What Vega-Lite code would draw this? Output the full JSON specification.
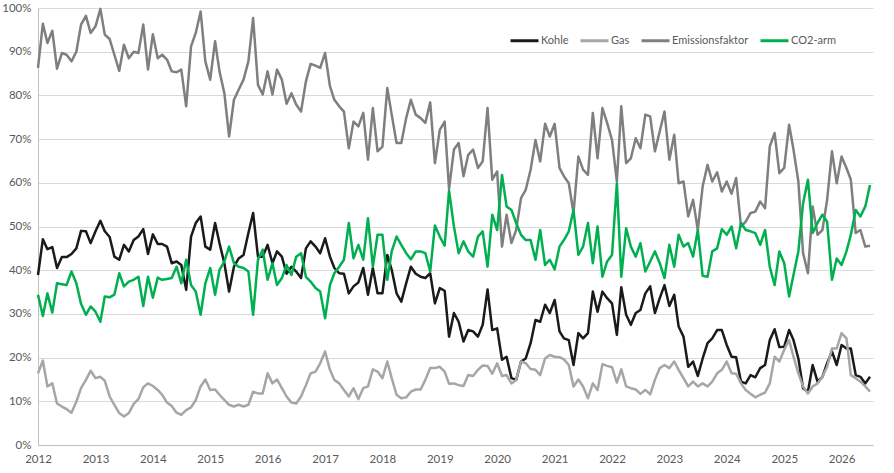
{
  "$schema": "https://vega.github.io/schema/vega-lite/v6.json",
  "width": 835,
  "height": 437,
  "autosize": "none",
  "padding": {"left": 38, "top": 8, "right": 21, "bottom": 28},
  "config": {"view": {"stroke": null}, "font": "Lato"},
  "data": {
    "format": {"parse": {"date": "date:'%Y-%m'"}},
    "values": [
      {"date":"2012-01","series":"Kohle","value":38.9},{"date":"2012-02","series":"Kohle","value":47.1},{"date":"2012-03","series":"Kohle","value":44.8},{"date":"2012-04","series":"Kohle","value":45.3},{"date":"2012-05","series":"Kohle","value":40.5},{"date":"2012-06","series":"Kohle","value":43},{"date":"2012-07","series":"Kohle","value":43},{"date":"2012-08","series":"Kohle","value":43.7},{"date":"2012-09","series":"Kohle","value":45},{"date":"2012-10","series":"Kohle","value":49},{"date":"2012-11","series":"Kohle","value":48.9},{"date":"2012-12","series":"Kohle","value":46.2},
      {"date":"2013-01","series":"Kohle","value":48.9},{"date":"2013-02","series":"Kohle","value":51.3},{"date":"2013-03","series":"Kohle","value":48.9},{"date":"2013-04","series":"Kohle","value":47.6},{"date":"2013-05","series":"Kohle","value":43.1},{"date":"2013-06","series":"Kohle","value":42.4},{"date":"2013-07","series":"Kohle","value":45.8},{"date":"2013-08","series":"Kohle","value":44.3},{"date":"2013-09","series":"Kohle","value":46.9},{"date":"2013-10","series":"Kohle","value":47.7},{"date":"2013-11","series":"Kohle","value":49.4},{"date":"2013-12","series":"Kohle","value":43.7},
      {"date":"2014-01","series":"Kohle","value":48.2},{"date":"2014-02","series":"Kohle","value":46},{"date":"2014-03","series":"Kohle","value":46},{"date":"2014-04","series":"Kohle","value":45.4},{"date":"2014-05","series":"Kohle","value":41.6},{"date":"2014-06","series":"Kohle","value":42},{"date":"2014-07","series":"Kohle","value":41.2},{"date":"2014-08","series":"Kohle","value":35.5},{"date":"2014-09","series":"Kohle","value":47.7},{"date":"2014-10","series":"Kohle","value":50.8},{"date":"2014-11","series":"Kohle","value":52.3},{"date":"2014-12","series":"Kohle","value":45.4},
      {"date":"2015-01","series":"Kohle","value":44.7},{"date":"2015-02","series":"Kohle","value":50.8},{"date":"2015-03","series":"Kohle","value":46.2},{"date":"2015-04","series":"Kohle","value":41.6},{"date":"2015-05","series":"Kohle","value":35.1},{"date":"2015-06","series":"Kohle","value":40.8},{"date":"2015-07","series":"Kohle","value":42.7},{"date":"2015-08","series":"Kohle","value":43.5},{"date":"2015-09","series":"Kohle","value":48.5},{"date":"2015-10","series":"Kohle","value":53.1},{"date":"2015-11","series":"Kohle","value":43.1},{"date":"2015-12","series":"Kohle","value":43.1},
      {"date":"2016-01","series":"Kohle","value":45.8},{"date":"2016-02","series":"Kohle","value":41.6},{"date":"2016-03","series":"Kohle","value":44.3},{"date":"2016-04","series":"Kohle","value":43.1},{"date":"2016-05","series":"Kohle","value":39.2},{"date":"2016-06","series":"Kohle","value":40.8},{"date":"2016-07","series":"Kohle","value":39.7},{"date":"2016-08","series":"Kohle","value":38.2},{"date":"2016-09","series":"Kohle","value":45},{"date":"2016-10","series":"Kohle","value":46.6},{"date":"2016-11","series":"Kohle","value":45.4},{"date":"2016-12","series":"Kohle","value":43.9},
      {"date":"2017-01","series":"Kohle","value":47.3},{"date":"2017-02","series":"Kohle","value":43.1},{"date":"2017-03","series":"Kohle","value":40.5},{"date":"2017-04","series":"Kohle","value":39.3},{"date":"2017-05","series":"Kohle","value":39.2},{"date":"2017-06","series":"Kohle","value":34.7},{"date":"2017-07","series":"Kohle","value":36.3},{"date":"2017-08","series":"Kohle","value":37.2},{"date":"2017-09","series":"Kohle","value":40.5},{"date":"2017-10","series":"Kohle","value":34.4},{"date":"2017-11","series":"Kohle","value":40.5},{"date":"2017-12","series":"Kohle","value":34.7},
      {"date":"2018-01","series":"Kohle","value":34.7},{"date":"2018-02","series":"Kohle","value":43.5},{"date":"2018-03","series":"Kohle","value":40.1},{"date":"2018-04","series":"Kohle","value":34.7},{"date":"2018-05","series":"Kohle","value":32.8},{"date":"2018-06","series":"Kohle","value":37},{"date":"2018-07","series":"Kohle","value":40.8},{"date":"2018-08","series":"Kohle","value":39.2},{"date":"2018-09","series":"Kohle","value":38.5},{"date":"2018-10","series":"Kohle","value":38.2},{"date":"2018-11","series":"Kohle","value":39.3},{"date":"2018-12","series":"Kohle","value":32.4},
      {"date":"2019-01","series":"Kohle","value":35.9},{"date":"2019-02","series":"Kohle","value":35.3},{"date":"2019-03","series":"Kohle","value":24.8},{"date":"2019-04","series":"Kohle","value":30.2},{"date":"2019-05","series":"Kohle","value":28.2},{"date":"2019-06","series":"Kohle","value":23.7},{"date":"2019-07","series":"Kohle","value":26.3},{"date":"2019-08","series":"Kohle","value":26},{"date":"2019-09","series":"Kohle","value":24.8},{"date":"2019-10","series":"Kohle","value":27.5},{"date":"2019-11","series":"Kohle","value":35.6},{"date":"2019-12","series":"Kohle","value":26.3},
      {"date":"2020-01","series":"Kohle","value":26.7},{"date":"2020-02","series":"Kohle","value":19.5},{"date":"2020-03","series":"Kohle","value":20.2},{"date":"2020-04","series":"Kohle","value":15.3},{"date":"2020-05","series":"Kohle","value":14.9},{"date":"2020-06","series":"Kohle","value":19.1},{"date":"2020-07","series":"Kohle","value":19.8},{"date":"2020-08","series":"Kohle","value":23.3},{"date":"2020-09","series":"Kohle","value":28.6},{"date":"2020-10","series":"Kohle","value":28.2},{"date":"2020-11","series":"Kohle","value":32.1},{"date":"2020-12","series":"Kohle","value":30.2},
      {"date":"2021-01","series":"Kohle","value":33.2},{"date":"2021-02","series":"Kohle","value":26},{"date":"2021-03","series":"Kohle","value":24.4},{"date":"2021-04","series":"Kohle","value":24},{"date":"2021-05","series":"Kohle","value":18.3},{"date":"2021-06","series":"Kohle","value":25.6},{"date":"2021-07","series":"Kohle","value":24.4},{"date":"2021-08","series":"Kohle","value":25.6},{"date":"2021-09","series":"Kohle","value":35.1},{"date":"2021-10","series":"Kohle","value":30.5},{"date":"2021-11","series":"Kohle","value":35.1},{"date":"2021-12","series":"Kohle","value":33.6},
      {"date":"2022-01","series":"Kohle","value":32.4},{"date":"2022-02","series":"Kohle","value":25.2},{"date":"2022-03","series":"Kohle","value":36.1},{"date":"2022-04","series":"Kohle","value":29.8},{"date":"2022-05","series":"Kohle","value":27.5},{"date":"2022-06","series":"Kohle","value":30.2},{"date":"2022-07","series":"Kohle","value":30.9},{"date":"2022-08","series":"Kohle","value":34.7},{"date":"2022-09","series":"Kohle","value":36.3},{"date":"2022-10","series":"Kohle","value":30.2},{"date":"2022-11","series":"Kohle","value":33.6},{"date":"2022-12","series":"Kohle","value":36.6},
      {"date":"2023-01","series":"Kohle","value":31.8},{"date":"2023-02","series":"Kohle","value":34.4},{"date":"2023-03","series":"Kohle","value":27.1},{"date":"2023-04","series":"Kohle","value":24.8},{"date":"2023-05","series":"Kohle","value":17.9},{"date":"2023-06","series":"Kohle","value":19.1},{"date":"2023-07","series":"Kohle","value":15.8},{"date":"2023-08","series":"Kohle","value":19.8},{"date":"2023-09","series":"Kohle","value":23.3},{"date":"2023-10","series":"Kohle","value":24.4},{"date":"2023-11","series":"Kohle","value":26.3},{"date":"2023-12","series":"Kohle","value":26.3},
      {"date":"2024-01","series":"Kohle","value":22.9},{"date":"2024-02","series":"Kohle","value":20.2},{"date":"2024-03","series":"Kohle","value":20.1},{"date":"2024-04","series":"Kohle","value":14.5},{"date":"2024-05","series":"Kohle","value":14.1},{"date":"2024-06","series":"Kohle","value":16},{"date":"2024-07","series":"Kohle","value":15.5},{"date":"2024-08","series":"Kohle","value":17.6},{"date":"2024-09","series":"Kohle","value":18.3},{"date":"2024-10","series":"Kohle","value":24},{"date":"2024-11","series":"Kohle","value":26.5},{"date":"2024-12","series":"Kohle","value":22.4},
      {"date":"2025-01","series":"Kohle","value":22.5},{"date":"2025-02","series":"Kohle","value":26.3},{"date":"2025-03","series":"Kohle","value":24},{"date":"2025-04","series":"Kohle","value":19.8},{"date":"2025-05","series":"Kohle","value":13},{"date":"2025-06","series":"Kohle","value":12.2},{"date":"2025-07","series":"Kohle","value":18.3},{"date":"2025-08","series":"Kohle","value":14.5},{"date":"2025-09","series":"Kohle","value":15.6},{"date":"2025-10","series":"Kohle","value":18.7},{"date":"2025-11","series":"Kohle","value":21.4},{"date":"2025-12","series":"Kohle","value":18.3},
      {"date":"2026-01","series":"Kohle","value":22.9},{"date":"2026-02","series":"Kohle","value":22.1},{"date":"2026-03","series":"Kohle","value":22.1},{"date":"2026-04","series":"Kohle","value":16},{"date":"2026-05","series":"Kohle","value":15.6},{"date":"2026-06","series":"Kohle","value":14.1},{"date":"2026-07","series":"Kohle","value":15.6},

      {"date":"2012-01","series":"Gas","value":16.4},{"date":"2012-02","series":"Gas","value":19.3},{"date":"2012-03","series":"Gas","value":13.4},{"date":"2012-04","series":"Gas","value":14.1},{"date":"2012-05","series":"Gas","value":9.5},{"date":"2012-06","series":"Gas","value":8.8},{"date":"2012-07","series":"Gas","value":8.2},{"date":"2012-08","series":"Gas","value":7.4},{"date":"2012-09","series":"Gas","value":9.9},{"date":"2012-10","series":"Gas","value":13},{"date":"2012-11","series":"Gas","value":14.9},{"date":"2012-12","series":"Gas","value":17},
      {"date":"2013-01","series":"Gas","value":15.3},{"date":"2013-02","series":"Gas","value":15.6},{"date":"2013-03","series":"Gas","value":14.7},{"date":"2013-04","series":"Gas","value":11.1},{"date":"2013-05","series":"Gas","value":9.2},{"date":"2013-06","series":"Gas","value":7.3},{"date":"2013-07","series":"Gas","value":6.5},{"date":"2013-08","series":"Gas","value":7.3},{"date":"2013-09","series":"Gas","value":9.4},{"date":"2013-10","series":"Gas","value":10.5},{"date":"2013-11","series":"Gas","value":13.2},{"date":"2013-12","series":"Gas","value":14.1},
      {"date":"2014-01","series":"Gas","value":13.5},{"date":"2014-02","series":"Gas","value":12.6},{"date":"2014-03","series":"Gas","value":11.5},{"date":"2014-04","series":"Gas","value":9.7},{"date":"2014-05","series":"Gas","value":8.9},{"date":"2014-06","series":"Gas","value":7.4},{"date":"2014-07","series":"Gas","value":6.9},{"date":"2014-08","series":"Gas","value":8},{"date":"2014-09","series":"Gas","value":8.6},{"date":"2014-10","series":"Gas","value":10.3},{"date":"2014-11","series":"Gas","value":13.4},{"date":"2014-12","series":"Gas","value":15},
      {"date":"2015-01","series":"Gas","value":12.6},{"date":"2015-02","series":"Gas","value":12.7},{"date":"2015-03","series":"Gas","value":11.5},{"date":"2015-04","series":"Gas","value":10.3},{"date":"2015-05","series":"Gas","value":9.2},{"date":"2015-06","series":"Gas","value":8.8},{"date":"2015-07","series":"Gas","value":9.2},{"date":"2015-08","series":"Gas","value":8.8},{"date":"2015-09","series":"Gas","value":9.2},{"date":"2015-10","series":"Gas","value":12.2},{"date":"2015-11","series":"Gas","value":11.8},{"date":"2015-12","series":"Gas","value":11.8},
      {"date":"2016-01","series":"Gas","value":16.4},{"date":"2016-02","series":"Gas","value":14.1},{"date":"2016-03","series":"Gas","value":15},{"date":"2016-04","series":"Gas","value":13},{"date":"2016-05","series":"Gas","value":11.1},{"date":"2016-06","series":"Gas","value":9.7},{"date":"2016-07","series":"Gas","value":9.5},{"date":"2016-08","series":"Gas","value":11.1},{"date":"2016-09","series":"Gas","value":13.7},{"date":"2016-10","series":"Gas","value":16.4},{"date":"2016-11","series":"Gas","value":16.8},{"date":"2016-12","series":"Gas","value":18.7},
      {"date":"2017-01","series":"Gas","value":21.4},{"date":"2017-02","series":"Gas","value":17.2},{"date":"2017-03","series":"Gas","value":14.9},{"date":"2017-04","series":"Gas","value":14.1},{"date":"2017-05","series":"Gas","value":12.6},{"date":"2017-06","series":"Gas","value":11.1},{"date":"2017-07","series":"Gas","value":13},{"date":"2017-08","series":"Gas","value":10.5},{"date":"2017-09","series":"Gas","value":13},{"date":"2017-10","series":"Gas","value":13.4},{"date":"2017-11","series":"Gas","value":17.3},{"date":"2017-12","series":"Gas","value":16.8},
      {"date":"2018-01","series":"Gas","value":15.3},{"date":"2018-02","series":"Gas","value":19.1},{"date":"2018-03","series":"Gas","value":15.3},{"date":"2018-04","series":"Gas","value":11.5},{"date":"2018-05","series":"Gas","value":10.7},{"date":"2018-06","series":"Gas","value":10.9},{"date":"2018-07","series":"Gas","value":12.2},{"date":"2018-08","series":"Gas","value":12.7},{"date":"2018-09","series":"Gas","value":12.7},{"date":"2018-10","series":"Gas","value":14.9},{"date":"2018-11","series":"Gas","value":17.6},{"date":"2018-12","series":"Gas","value":17.6},
      {"date":"2019-01","series":"Gas","value":17.9},{"date":"2019-02","series":"Gas","value":16.8},{"date":"2019-03","series":"Gas","value":14},{"date":"2019-04","series":"Gas","value":14.1},{"date":"2019-05","series":"Gas","value":13.7},{"date":"2019-06","series":"Gas","value":13.5},{"date":"2019-07","series":"Gas","value":16},{"date":"2019-08","series":"Gas","value":15.8},{"date":"2019-09","series":"Gas","value":17.2},{"date":"2019-10","series":"Gas","value":18.2},{"date":"2019-11","series":"Gas","value":18.1},{"date":"2019-12","series":"Gas","value":16.3},
      {"date":"2020-01","series":"Gas","value":18.7},{"date":"2020-02","series":"Gas","value":15.8},{"date":"2020-03","series":"Gas","value":16},{"date":"2020-04","series":"Gas","value":14.1},{"date":"2020-05","series":"Gas","value":14.9},{"date":"2020-06","series":"Gas","value":19.1},{"date":"2020-07","series":"Gas","value":18.7},{"date":"2020-08","series":"Gas","value":17.4},{"date":"2020-09","series":"Gas","value":17.2},{"date":"2020-10","series":"Gas","value":16},{"date":"2020-11","series":"Gas","value":19.8},{"date":"2020-12","series":"Gas","value":20.6},
      {"date":"2021-01","series":"Gas","value":20.2},{"date":"2021-02","series":"Gas","value":20.1},{"date":"2021-03","series":"Gas","value":19.6},{"date":"2021-04","series":"Gas","value":18.3},{"date":"2021-05","series":"Gas","value":13.4},{"date":"2021-06","series":"Gas","value":15},{"date":"2021-07","series":"Gas","value":13.4},{"date":"2021-08","series":"Gas","value":10.7},{"date":"2021-09","series":"Gas","value":14.1},{"date":"2021-10","series":"Gas","value":12.6},{"date":"2021-11","series":"Gas","value":18.5},{"date":"2021-12","series":"Gas","value":18.1},
      {"date":"2022-01","series":"Gas","value":17.8},{"date":"2022-02","series":"Gas","value":14.3},{"date":"2022-03","series":"Gas","value":17.3},{"date":"2022-04","series":"Gas","value":13.4},{"date":"2022-05","series":"Gas","value":13},{"date":"2022-06","series":"Gas","value":12.7},{"date":"2022-07","series":"Gas","value":11.7},{"date":"2022-08","series":"Gas","value":12.6},{"date":"2022-09","series":"Gas","value":11.6},{"date":"2022-10","series":"Gas","value":14.9},{"date":"2022-11","series":"Gas","value":17.6},{"date":"2022-12","series":"Gas","value":18.3},
      {"date":"2023-01","series":"Gas","value":17.6},{"date":"2023-02","series":"Gas","value":19.1},{"date":"2023-03","series":"Gas","value":17.2},{"date":"2023-04","series":"Gas","value":15.3},{"date":"2023-05","series":"Gas","value":13.4},{"date":"2023-06","series":"Gas","value":14.5},{"date":"2023-07","series":"Gas","value":13.4},{"date":"2023-08","series":"Gas","value":14.1},{"date":"2023-09","series":"Gas","value":13.4},{"date":"2023-10","series":"Gas","value":14.5},{"date":"2023-11","series":"Gas","value":16.4},{"date":"2023-12","series":"Gas","value":17.2},
      {"date":"2024-01","series":"Gas","value":19.1},{"date":"2024-02","series":"Gas","value":16.4},{"date":"2024-03","series":"Gas","value":16.3},{"date":"2024-04","series":"Gas","value":14.1},{"date":"2024-05","series":"Gas","value":12.6},{"date":"2024-06","series":"Gas","value":11.7},{"date":"2024-07","series":"Gas","value":10.9},{"date":"2024-08","series":"Gas","value":11.5},{"date":"2024-09","series":"Gas","value":12},{"date":"2024-10","series":"Gas","value":14.1},{"date":"2024-11","series":"Gas","value":20.2},{"date":"2024-12","series":"Gas","value":19.1},
      {"date":"2025-01","series":"Gas","value":21.8},{"date":"2025-02","series":"Gas","value":24},{"date":"2025-03","series":"Gas","value":20.2},{"date":"2025-04","series":"Gas","value":16.4},{"date":"2025-05","series":"Gas","value":13.4},{"date":"2025-06","series":"Gas","value":11.8},{"date":"2025-07","series":"Gas","value":13.4},{"date":"2025-08","series":"Gas","value":14.1},{"date":"2025-09","series":"Gas","value":15.6},{"date":"2025-10","series":"Gas","value":17.9},{"date":"2025-11","series":"Gas","value":22.1},{"date":"2025-12","series":"Gas","value":22.1},
      {"date":"2026-01","series":"Gas","value":25.6},{"date":"2026-02","series":"Gas","value":24.4},{"date":"2026-03","series":"Gas","value":16},{"date":"2026-04","series":"Gas","value":15.3},{"date":"2026-05","series":"Gas","value":14.5},{"date":"2026-06","series":"Gas","value":13.4},{"date":"2026-07","series":"Gas","value":12.2},

      {"date":"2012-01","series":"Emissionsfaktor","value":86.3},{"date":"2012-02","series":"Emissionsfaktor","value":96.4},{"date":"2012-03","series":"Emissionsfaktor","value":92},{"date":"2012-04","series":"Emissionsfaktor","value":94.8},{"date":"2012-05","series":"Emissionsfaktor","value":86.1},{"date":"2012-06","series":"Emissionsfaktor","value":89.7},{"date":"2012-07","series":"Emissionsfaktor","value":89.3},{"date":"2012-08","series":"Emissionsfaktor","value":87.8},{"date":"2012-09","series":"Emissionsfaktor","value":90},{"date":"2012-10","series":"Emissionsfaktor","value":96.2},{"date":"2012-11","series":"Emissionsfaktor","value":98.2},{"date":"2012-12","series":"Emissionsfaktor","value":94.3},
      {"date":"2013-01","series":"Emissionsfaktor","value":95.8},{"date":"2013-02","series":"Emissionsfaktor","value":99.8},{"date":"2013-03","series":"Emissionsfaktor","value":93.9},{"date":"2013-04","series":"Emissionsfaktor","value":92.9},{"date":"2013-05","series":"Emissionsfaktor","value":89.3},{"date":"2013-06","series":"Emissionsfaktor","value":85.6},{"date":"2013-07","series":"Emissionsfaktor","value":91.6},{"date":"2013-08","series":"Emissionsfaktor","value":88.5},{"date":"2013-09","series":"Emissionsfaktor","value":90},{"date":"2013-10","series":"Emissionsfaktor","value":89.7},{"date":"2013-11","series":"Emissionsfaktor","value":96.2},{"date":"2013-12","series":"Emissionsfaktor","value":85.9},
      {"date":"2014-01","series":"Emissionsfaktor","value":94},{"date":"2014-02","series":"Emissionsfaktor","value":88.5},{"date":"2014-03","series":"Emissionsfaktor","value":89.3},{"date":"2014-04","series":"Emissionsfaktor","value":88.2},{"date":"2014-05","series":"Emissionsfaktor","value":85.5},{"date":"2014-06","series":"Emissionsfaktor","value":85.3},{"date":"2014-07","series":"Emissionsfaktor","value":85.9},{"date":"2014-08","series":"Emissionsfaktor","value":77.5},{"date":"2014-09","series":"Emissionsfaktor","value":91.2},{"date":"2014-10","series":"Emissionsfaktor","value":94.3},{"date":"2014-11","series":"Emissionsfaktor","value":99.2},{"date":"2014-12","series":"Emissionsfaktor","value":87.8},
      {"date":"2015-01","series":"Emissionsfaktor","value":83.6},{"date":"2015-02","series":"Emissionsfaktor","value":92.4},{"date":"2015-03","series":"Emissionsfaktor","value":85.5},{"date":"2015-04","series":"Emissionsfaktor","value":80.5},{"date":"2015-05","series":"Emissionsfaktor","value":70.6},{"date":"2015-06","series":"Emissionsfaktor","value":79},{"date":"2015-07","series":"Emissionsfaktor","value":81.3},{"date":"2015-08","series":"Emissionsfaktor","value":83.6},{"date":"2015-09","series":"Emissionsfaktor","value":87.8},{"date":"2015-10","series":"Emissionsfaktor","value":97.7},{"date":"2015-11","series":"Emissionsfaktor","value":82.4},{"date":"2015-12","series":"Emissionsfaktor","value":80.2},
      {"date":"2016-01","series":"Emissionsfaktor","value":85.5},{"date":"2016-02","series":"Emissionsfaktor","value":80.2},{"date":"2016-03","series":"Emissionsfaktor","value":85.9},{"date":"2016-04","series":"Emissionsfaktor","value":83.6},{"date":"2016-05","series":"Emissionsfaktor","value":78.1},{"date":"2016-06","series":"Emissionsfaktor","value":80.5},{"date":"2016-07","series":"Emissionsfaktor","value":77.9},{"date":"2016-08","series":"Emissionsfaktor","value":76.3},{"date":"2016-09","series":"Emissionsfaktor","value":83.2},{"date":"2016-10","series":"Emissionsfaktor","value":87.2},{"date":"2016-11","series":"Emissionsfaktor","value":86.8},{"date":"2016-12","series":"Emissionsfaktor","value":86.3},
      {"date":"2017-01","series":"Emissionsfaktor","value":89.7},{"date":"2017-02","series":"Emissionsfaktor","value":82.1},{"date":"2017-03","series":"Emissionsfaktor","value":79},{"date":"2017-04","series":"Emissionsfaktor","value":77.5},{"date":"2017-05","series":"Emissionsfaktor","value":76.3},{"date":"2017-06","series":"Emissionsfaktor","value":67.9},{"date":"2017-07","series":"Emissionsfaktor","value":74},{"date":"2017-08","series":"Emissionsfaktor","value":72.9},{"date":"2017-09","series":"Emissionsfaktor","value":76},{"date":"2017-10","series":"Emissionsfaktor","value":65.3},{"date":"2017-11","series":"Emissionsfaktor","value":77.1},{"date":"2017-12","series":"Emissionsfaktor","value":67.2},
      {"date":"2018-01","series":"Emissionsfaktor","value":68.3},{"date":"2018-02","series":"Emissionsfaktor","value":81.7},{"date":"2018-03","series":"Emissionsfaktor","value":75.6},{"date":"2018-04","series":"Emissionsfaktor","value":69.1},{"date":"2018-05","series":"Emissionsfaktor","value":69.1},{"date":"2018-06","series":"Emissionsfaktor","value":74.8},{"date":"2018-07","series":"Emissionsfaktor","value":79},{"date":"2018-08","series":"Emissionsfaktor","value":75.6},{"date":"2018-09","series":"Emissionsfaktor","value":74.8},{"date":"2018-10","series":"Emissionsfaktor","value":73.7},{"date":"2018-11","series":"Emissionsfaktor","value":78.4},{"date":"2018-12","series":"Emissionsfaktor","value":64.5},
      {"date":"2019-01","series":"Emissionsfaktor","value":72.1},{"date":"2019-02","series":"Emissionsfaktor","value":74},{"date":"2019-03","series":"Emissionsfaktor","value":58.6},{"date":"2019-04","series":"Emissionsfaktor","value":67.6},{"date":"2019-05","series":"Emissionsfaktor","value":69.1},{"date":"2019-06","series":"Emissionsfaktor","value":61.5},{"date":"2019-07","series":"Emissionsfaktor","value":66.4},{"date":"2019-08","series":"Emissionsfaktor","value":67.6},{"date":"2019-09","series":"Emissionsfaktor","value":63.4},{"date":"2019-10","series":"Emissionsfaktor","value":64.9},{"date":"2019-11","series":"Emissionsfaktor","value":77.1},{"date":"2019-12","series":"Emissionsfaktor","value":60.7},
      {"date":"2020-01","series":"Emissionsfaktor","value":62.6},{"date":"2020-02","series":"Emissionsfaktor","value":45.4},{"date":"2020-03","series":"Emissionsfaktor","value":52.7},{"date":"2020-04","series":"Emissionsfaktor","value":46.2},{"date":"2020-05","series":"Emissionsfaktor","value":49.2},{"date":"2020-06","series":"Emissionsfaktor","value":56.5},{"date":"2020-07","series":"Emissionsfaktor","value":58.4},{"date":"2020-08","series":"Emissionsfaktor","value":63},{"date":"2020-09","series":"Emissionsfaktor","value":69.8},{"date":"2020-10","series":"Emissionsfaktor","value":64.9},{"date":"2020-11","series":"Emissionsfaktor","value":73.5},{"date":"2020-12","series":"Emissionsfaktor","value":70.6},
      {"date":"2021-01","series":"Emissionsfaktor","value":73.5},{"date":"2021-02","series":"Emissionsfaktor","value":63.4},{"date":"2021-03","series":"Emissionsfaktor","value":61.5},{"date":"2021-04","series":"Emissionsfaktor","value":59.9},{"date":"2021-05","series":"Emissionsfaktor","value":53.1},{"date":"2021-06","series":"Emissionsfaktor","value":66},{"date":"2021-07","series":"Emissionsfaktor","value":63},{"date":"2021-08","series":"Emissionsfaktor","value":61.8},{"date":"2021-09","series":"Emissionsfaktor","value":76},{"date":"2021-10","series":"Emissionsfaktor","value":65.6},{"date":"2021-11","series":"Emissionsfaktor","value":77.1},{"date":"2021-12","series":"Emissionsfaktor","value":73.7},
      {"date":"2022-01","series":"Emissionsfaktor","value":69.8},{"date":"2022-02","series":"Emissionsfaktor","value":60.3},{"date":"2022-03","series":"Emissionsfaktor","value":77.5},{"date":"2022-04","series":"Emissionsfaktor","value":64.5},{"date":"2022-05","series":"Emissionsfaktor","value":65.6},{"date":"2022-06","series":"Emissionsfaktor","value":70.2},{"date":"2022-07","series":"Emissionsfaktor","value":67.9},{"date":"2022-08","series":"Emissionsfaktor","value":75.6},{"date":"2022-09","series":"Emissionsfaktor","value":75.2},{"date":"2022-10","series":"Emissionsfaktor","value":67.2},{"date":"2022-11","series":"Emissionsfaktor","value":71.8},{"date":"2022-12","series":"Emissionsfaktor","value":76.3},
      {"date":"2023-01","series":"Emissionsfaktor","value":65.3},{"date":"2023-02","series":"Emissionsfaktor","value":71},{"date":"2023-03","series":"Emissionsfaktor","value":59.9},{"date":"2023-04","series":"Emissionsfaktor","value":60.3},{"date":"2023-05","series":"Emissionsfaktor","value":52.3},{"date":"2023-06","series":"Emissionsfaktor","value":56.1},{"date":"2023-07","series":"Emissionsfaktor","value":49.2},{"date":"2023-08","series":"Emissionsfaktor","value":59.2},{"date":"2023-09","series":"Emissionsfaktor","value":64.1},{"date":"2023-10","series":"Emissionsfaktor","value":60.3},{"date":"2023-11","series":"Emissionsfaktor","value":62.4},{"date":"2023-12","series":"Emissionsfaktor","value":58},
      {"date":"2024-01","series":"Emissionsfaktor","value":60.3},{"date":"2024-02","series":"Emissionsfaktor","value":57.5},{"date":"2024-03","series":"Emissionsfaktor","value":61.1},{"date":"2024-04","series":"Emissionsfaktor","value":50},{"date":"2024-05","series":"Emissionsfaktor","value":51.1},{"date":"2024-06","series":"Emissionsfaktor","value":53.1},{"date":"2024-07","series":"Emissionsfaktor","value":53.4},{"date":"2024-08","series":"Emissionsfaktor","value":55.7},{"date":"2024-09","series":"Emissionsfaktor","value":54.2},{"date":"2024-10","series":"Emissionsfaktor","value":68.3},{"date":"2024-11","series":"Emissionsfaktor","value":71.4},{"date":"2024-12","series":"Emissionsfaktor","value":62.2},
      {"date":"2025-01","series":"Emissionsfaktor","value":63.4},{"date":"2025-02","series":"Emissionsfaktor","value":73.3},{"date":"2025-03","series":"Emissionsfaktor","value":67.6},{"date":"2025-04","series":"Emissionsfaktor","value":60.3},{"date":"2025-05","series":"Emissionsfaktor","value":43.9},{"date":"2025-06","series":"Emissionsfaktor","value":39.3},{"date":"2025-07","series":"Emissionsfaktor","value":54.6},{"date":"2025-08","series":"Emissionsfaktor","value":48.1},{"date":"2025-09","series":"Emissionsfaktor","value":49.2},{"date":"2025-10","series":"Emissionsfaktor","value":56.1},{"date":"2025-11","series":"Emissionsfaktor","value":67.2},{"date":"2025-12","series":"Emissionsfaktor","value":59.9},
      {"date":"2026-01","series":"Emissionsfaktor","value":66},{"date":"2026-02","series":"Emissionsfaktor","value":63.4},{"date":"2026-03","series":"Emissionsfaktor","value":60.7},{"date":"2026-04","series":"Emissionsfaktor","value":48.5},{"date":"2026-05","series":"Emissionsfaktor","value":49.2},{"date":"2026-06","series":"Emissionsfaktor","value":45.4},{"date":"2026-07","series":"Emissionsfaktor","value":45.6},

      {"date":"2012-01","series":"CO2-arm","value":34.4},{"date":"2012-02","series":"CO2-arm","value":29.5},{"date":"2012-03","series":"CO2-arm","value":34.7},{"date":"2012-04","series":"CO2-arm","value":30.3},{"date":"2012-05","series":"CO2-arm","value":37},{"date":"2012-06","series":"CO2-arm","value":36.8},{"date":"2012-07","series":"CO2-arm","value":36.6},{"date":"2012-08","series":"CO2-arm","value":39.7},{"date":"2012-09","series":"CO2-arm","value":37},{"date":"2012-10","series":"CO2-arm","value":32.3},{"date":"2012-11","series":"CO2-arm","value":29.8},{"date":"2012-12","series":"CO2-arm","value":31.7},
      {"date":"2013-01","series":"CO2-arm","value":30.5},{"date":"2013-02","series":"CO2-arm","value":28.2},{"date":"2013-03","series":"CO2-arm","value":34},{"date":"2013-04","series":"CO2-arm","value":33.8},{"date":"2013-05","series":"CO2-arm","value":34.4},{"date":"2013-06","series":"CO2-arm","value":39.3},{"date":"2013-07","series":"CO2-arm","value":36.3},{"date":"2013-08","series":"CO2-arm","value":37.4},{"date":"2013-09","series":"CO2-arm","value":37.8},{"date":"2013-10","series":"CO2-arm","value":38.5},{"date":"2013-11","series":"CO2-arm","value":31.8},{"date":"2013-12","series":"CO2-arm","value":38.5},
      {"date":"2014-01","series":"CO2-arm","value":33.7},{"date":"2014-02","series":"CO2-arm","value":38.3},{"date":"2014-03","series":"CO2-arm","value":37.8},{"date":"2014-04","series":"CO2-arm","value":38},{"date":"2014-05","series":"CO2-arm","value":38.2},{"date":"2014-06","series":"CO2-arm","value":40.8},{"date":"2014-07","series":"CO2-arm","value":37},{"date":"2014-08","series":"CO2-arm","value":42.4},{"date":"2014-09","series":"CO2-arm","value":36.6},{"date":"2014-10","series":"CO2-arm","value":35.1},{"date":"2014-11","series":"CO2-arm","value":29.8},{"date":"2014-12","series":"CO2-arm","value":37},
      {"date":"2015-01","series":"CO2-arm","value":40.5},{"date":"2015-02","series":"CO2-arm","value":34.4},{"date":"2015-03","series":"CO2-arm","value":40.1},{"date":"2015-04","series":"CO2-arm","value":42},{"date":"2015-05","series":"CO2-arm","value":45.4},{"date":"2015-06","series":"CO2-arm","value":41.6},{"date":"2015-07","series":"CO2-arm","value":40.8},{"date":"2015-08","series":"CO2-arm","value":40.5},{"date":"2015-09","series":"CO2-arm","value":39.7},{"date":"2015-10","series":"CO2-arm","value":29.8},{"date":"2015-11","series":"CO2-arm","value":42.4},{"date":"2015-12","series":"CO2-arm","value":44.7},
      {"date":"2016-01","series":"CO2-arm","value":37.8},{"date":"2016-02","series":"CO2-arm","value":41.6},{"date":"2016-03","series":"CO2-arm","value":36.6},{"date":"2016-04","series":"CO2-arm","value":38.2},{"date":"2016-05","series":"CO2-arm","value":41.2},{"date":"2016-06","series":"CO2-arm","value":38.9},{"date":"2016-07","series":"CO2-arm","value":43.1},{"date":"2016-08","series":"CO2-arm","value":43.9},{"date":"2016-09","series":"CO2-arm","value":38.5},{"date":"2016-10","series":"CO2-arm","value":37.4},{"date":"2016-11","series":"CO2-arm","value":35.9},{"date":"2016-12","series":"CO2-arm","value":35.1},
      {"date":"2017-01","series":"CO2-arm","value":29},{"date":"2017-02","series":"CO2-arm","value":36.6},{"date":"2017-03","series":"CO2-arm","value":39.3},{"date":"2017-04","series":"CO2-arm","value":40.8},{"date":"2017-05","series":"CO2-arm","value":42.4},{"date":"2017-06","series":"CO2-arm","value":50.8},{"date":"2017-07","series":"CO2-arm","value":42.7},{"date":"2017-08","series":"CO2-arm","value":45.8},{"date":"2017-09","series":"CO2-arm","value":42.4},{"date":"2017-10","series":"CO2-arm","value":51.9},{"date":"2017-11","series":"CO2-arm","value":40.8},{"date":"2017-12","series":"CO2-arm","value":48.1},
      {"date":"2018-01","series":"CO2-arm","value":48.1},{"date":"2018-02","series":"CO2-arm","value":37.8},{"date":"2018-03","series":"CO2-arm","value":44.3},{"date":"2018-04","series":"CO2-arm","value":47.7},{"date":"2018-05","series":"CO2-arm","value":45.8},{"date":"2018-06","series":"CO2-arm","value":43.9},{"date":"2018-07","series":"CO2-arm","value":42.5},{"date":"2018-08","series":"CO2-arm","value":44.3},{"date":"2018-09","series":"CO2-arm","value":44.3},{"date":"2018-10","series":"CO2-arm","value":43.9},{"date":"2018-11","series":"CO2-arm","value":39.7},{"date":"2018-12","series":"CO2-arm","value":50.2},
      {"date":"2019-01","series":"CO2-arm","value":47.7},{"date":"2019-02","series":"CO2-arm","value":45.6},{"date":"2019-03","series":"CO2-arm","value":58.2},{"date":"2019-04","series":"CO2-arm","value":50},{"date":"2019-05","series":"CO2-arm","value":43.9},{"date":"2019-06","series":"CO2-arm","value":46.6},{"date":"2019-07","series":"CO2-arm","value":44.3},{"date":"2019-08","series":"CO2-arm","value":43.1},{"date":"2019-09","series":"CO2-arm","value":47.7},{"date":"2019-10","series":"CO2-arm","value":48.9},{"date":"2019-11","series":"CO2-arm","value":40.8},{"date":"2019-12","series":"CO2-arm","value":52.7},
      {"date":"2020-01","series":"CO2-arm","value":49.2},{"date":"2020-02","series":"CO2-arm","value":61.8},{"date":"2020-03","series":"CO2-arm","value":54.6},{"date":"2020-04","series":"CO2-arm","value":53.8},{"date":"2020-05","series":"CO2-arm","value":50.8},{"date":"2020-06","series":"CO2-arm","value":48.1},{"date":"2020-07","series":"CO2-arm","value":46.9},{"date":"2020-08","series":"CO2-arm","value":46.9},{"date":"2020-09","series":"CO2-arm","value":42.4},{"date":"2020-10","series":"CO2-arm","value":49.2},{"date":"2020-11","series":"CO2-arm","value":41.2},{"date":"2020-12","series":"CO2-arm","value":42.4},
      {"date":"2021-01","series":"CO2-arm","value":40.2},{"date":"2021-02","series":"CO2-arm","value":45.4},{"date":"2021-03","series":"CO2-arm","value":46.9},{"date":"2021-04","series":"CO2-arm","value":48.9},{"date":"2021-05","series":"CO2-arm","value":53.8},{"date":"2021-06","series":"CO2-arm","value":43.5},{"date":"2021-07","series":"CO2-arm","value":45.4},{"date":"2021-08","series":"CO2-arm","value":50.8},{"date":"2021-09","series":"CO2-arm","value":41.6},{"date":"2021-10","series":"CO2-arm","value":50},{"date":"2021-11","series":"CO2-arm","value":38.5},{"date":"2021-12","series":"CO2-arm","value":42},
      {"date":"2022-01","series":"CO2-arm","value":43.5},{"date":"2022-02","series":"CO2-arm","value":59.9},{"date":"2022-03","series":"CO2-arm","value":38.5},{"date":"2022-04","series":"CO2-arm","value":49.6},{"date":"2022-05","series":"CO2-arm","value":45.4},{"date":"2022-06","series":"CO2-arm","value":43.1},{"date":"2022-07","series":"CO2-arm","value":46.2},{"date":"2022-08","series":"CO2-arm","value":39.7},{"date":"2022-09","series":"CO2-arm","value":42},{"date":"2022-10","series":"CO2-arm","value":44.3},{"date":"2022-11","series":"CO2-arm","value":41.6},{"date":"2022-12","series":"CO2-arm","value":38.2},
      {"date":"2023-01","series":"CO2-arm","value":45.8},{"date":"2023-02","series":"CO2-arm","value":40.8},{"date":"2023-03","series":"CO2-arm","value":48.1},{"date":"2023-04","series":"CO2-arm","value":45.4},{"date":"2023-05","series":"CO2-arm","value":46.2},{"date":"2023-06","series":"CO2-arm","value":43.1},{"date":"2023-07","series":"CO2-arm","value":49.2},{"date":"2023-08","series":"CO2-arm","value":38.7},{"date":"2023-09","series":"CO2-arm","value":38.5},{"date":"2023-10","series":"CO2-arm","value":44.3},{"date":"2023-11","series":"CO2-arm","value":45},{"date":"2023-12","series":"CO2-arm","value":49.4},
      {"date":"2024-01","series":"CO2-arm","value":48.1},{"date":"2024-02","series":"CO2-arm","value":50},{"date":"2024-03","series":"CO2-arm","value":45},{"date":"2024-04","series":"CO2-arm","value":50.8},{"date":"2024-05","series":"CO2-arm","value":49.2},{"date":"2024-06","series":"CO2-arm","value":48.9},{"date":"2024-07","series":"CO2-arm","value":48.5},{"date":"2024-08","series":"CO2-arm","value":45.8},{"date":"2024-09","series":"CO2-arm","value":49.2},{"date":"2024-10","series":"CO2-arm","value":40.8},{"date":"2024-11","series":"CO2-arm","value":36.6},{"date":"2024-12","series":"CO2-arm","value":44.3},
      {"date":"2025-01","series":"CO2-arm","value":41.6},{"date":"2025-02","series":"CO2-arm","value":34},{"date":"2025-03","series":"CO2-arm","value":38.9},{"date":"2025-04","series":"CO2-arm","value":44.3},{"date":"2025-05","series":"CO2-arm","value":55.3},{"date":"2025-06","series":"CO2-arm","value":60.7},{"date":"2025-07","series":"CO2-arm","value":48.5},{"date":"2025-08","series":"CO2-arm","value":50.8},{"date":"2025-09","series":"CO2-arm","value":52.7},{"date":"2025-10","series":"CO2-arm","value":51.1},{"date":"2025-11","series":"CO2-arm","value":37.8},{"date":"2025-12","series":"CO2-arm","value":42.7},
      {"date":"2026-01","series":"CO2-arm","value":41.2},{"date":"2026-02","series":"CO2-arm","value":44.3},{"date":"2026-03","series":"CO2-arm","value":48.1},{"date":"2026-04","series":"CO2-arm","value":53.8},{"date":"2026-05","series":"CO2-arm","value":52.3},{"date":"2026-06","series":"CO2-arm","value":54.6},{"date":"2026-07","series":"CO2-arm","value":59.5}
    ]
  },
  "mark": {"type": "line", "strokeWidth": 2.5, "strokeJoin": "round"},
  "encoding": {
    "x": {
      "field": "date",
      "type": "temporal",
      "scale": {"domain": [{"year": 2012, "month": 1, "date": 1}, {"year": 2026, "month": 7, "date": 20}]},
      "axis": {
        "title": null,
        "format": "%Y",
        "tickCount": {"interval": "year", "step": 1},
        "ticks": false,
        "grid": false,
        "domainColor": "#bfbfbf",
        "labelColor": "#595959",
        "labelFontSize": 11.5,
        "labelPadding": 8,
        "labelAlign": "center",
        "labelFlush": false,
        "labelOverlap": false
      }
    },
    "y": {
      "field": "value",
      "type": "quantitative",
      "scale": {"domain": [0, 100]},
      "axis": {
        "title": null,
        "values": [0, 10, 20, 30, 40, 50, 60, 70, 80, 90, 100],
        "labelExpr": "datum.value + '%'",
        "ticks": false,
        "gridColor": "#d9d9d9",
        "domainColor": "#bfbfbf",
        "labelColor": "#595959",
        "labelFontSize": 11.5,
        "labelPadding": 7
      }
    },
    "color": {
      "field": "series",
      "type": "nominal",
      "scale": {
        "domain": ["Kohle", "Gas", "Emissionsfaktor", "CO2-arm"],
        "range": ["#1a1a1a", "#a6a6a6", "#7f7f7f", "#00b050"]
      },
      "legend": {
        "title": null,
        "orient": "none",
        "legendX": 471,
        "legendY": 17,
        "direction": "horizontal",
        "symbolType": "stroke",
        "symbolSize": 784,
        "symbolStrokeWidth": 3,
        "labelFontSize": 11,
        "labelColor": "#595959",
        "labelOffset": 1,
        "columnPadding": 5
      }
    }
  }
}
